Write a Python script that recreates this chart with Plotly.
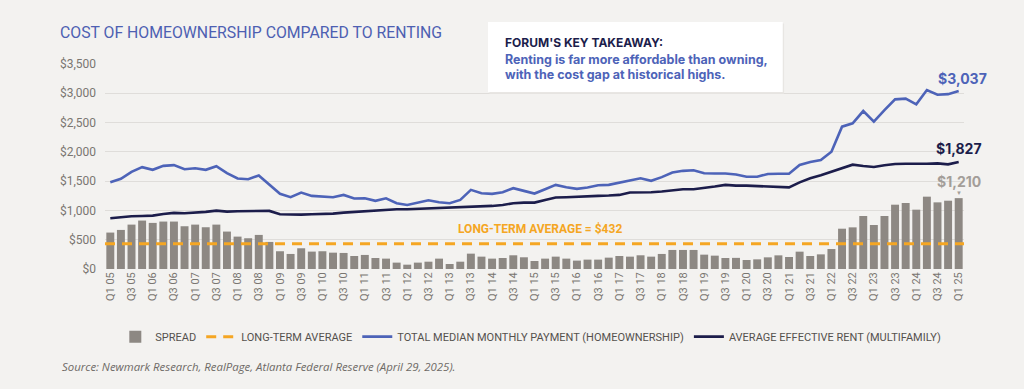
import plotly.graph_objects as go

# ---------------- data ----------------
years = list(range(5, 26))
quarters = [f"Q{q} {y:02d}" for y in years for q in (1, 2, 3, 4)][:81]  # Q1 05 .. Q1 25

spread = [622, 667, 758, 827, 787, 810, 810, 730, 758, 713, 758, 639, 553, 525, 582, 462,
          303, 257, 354, 297, 303, 279, 274, 222, 240, 188, 177, 109, 74, 109, 125, 177,
          85, 125, 262, 211, 177, 188, 234, 200, 137, 177, 211, 177, 143, 160, 160, 194,
          222, 211, 234, 211, 257, 325, 325, 325, 245, 228, 188, 190, 154, 165, 199, 233,
          205, 296, 222, 250, 341, 688, 711, 905, 751, 905, 1098, 1127, 1013, 1235, 1138, 1166,
          1210]

payment = [1482, 1539, 1659, 1739, 1693, 1761, 1773, 1704, 1721, 1693, 1756, 1636, 1545, 1533, 1596, 1436,
           1283, 1226, 1305, 1248, 1237, 1226, 1265, 1203, 1208, 1163, 1208, 1123, 1094, 1134, 1174, 1140,
           1123, 1180, 1351, 1294, 1283, 1311, 1379, 1334, 1288, 1362, 1436, 1397, 1368, 1391, 1431, 1436,
           1476, 1505, 1550, 1505, 1568, 1647, 1676, 1687, 1636, 1630, 1630, 1612, 1576, 1576, 1622, 1627,
           1627, 1775, 1827, 1861, 2003, 2430, 2487, 2697, 2515, 2714, 2896, 2908, 2811, 3056, 2975, 2985,
           3037]

rent = [866, 889, 900, 906, 912, 940, 958, 952, 958, 975, 997, 980, 986, 992, 997, 992,
        935, 929, 929, 935, 935, 946, 963, 975, 980, 1000, 1009, 1020, 1020, 1026, 1032, 1037,
        1049, 1055, 1055, 1060, 1077, 1094, 1123, 1134, 1134, 1180, 1220, 1225, 1237, 1240, 1248, 1254,
        1265, 1305, 1305, 1311, 1322, 1345, 1362, 1362, 1379, 1408, 1436, 1423, 1423, 1417, 1411, 1405,
        1394, 1479, 1548, 1599, 1661, 1718, 1781, 1758, 1741, 1770, 1792, 1798, 1792, 1798, 1804, 1787,
        1827]

LONG_TERM_AVG = 432
tick_labels = quarters[::2]

# ---------------- styling ----------------
BG = "#f3f2f0"
BLUE = "#4d63b8"
NAVY = "#1c1d4b"
GREY = "#8d8883"
ORANGE = "#f5a623"
TICK = "#7a7671"
COND = "Roboto, sans-serif"
GEO = "Inter, Lato, sans-serif"

x = list(range(len(quarters)))

fig = go.Figure()
fig.add_trace(go.Bar(x=x, y=spread, name="SPREAD", marker=dict(color=GREY, line=dict(width=0)),
                     hovertext=quarters))
fig.add_trace(go.Scatter(x=[x[0] - 0.5, x[-1] + 0.5], y=[LONG_TERM_AVG, LONG_TERM_AVG],
                         mode="lines", name="LONG-TERM AVERAGE",
                         line=dict(color=ORANGE, width=3, dash="10px,7px")))
fig.add_trace(go.Scatter(x=x, y=payment, mode="lines", name="TOTAL MEDIAN MONTHLY PAYMENT (HOMEOWNERSHIP)",
                         line=dict(color=BLUE, width=2.6), hovertext=quarters))
fig.add_trace(go.Scatter(x=x, y=rent, mode="lines", name="AVERAGE EFFECTIVE RENT (MULTIFAMILY)",
                         line=dict(color=NAVY, width=2.6), hovertext=quarters))

annotations = [
    dict(x=x[-1], y=payment[-1], xref="x", yref="y", text=f"<b>${payment[-1]:,}</b>",
         showarrow=False, yshift=13, xshift=4, font=dict(family=GEO, size=14, color=BLUE)),
    dict(x=x[-1], y=rent[-1], xref="x", yref="y", text=f"<b>${rent[-1]:,}</b>",
         showarrow=False, yshift=13, xshift=0, font=dict(family=GEO, size=14, color=NAVY)),
    dict(x=x[-1], y=spread[-1], xref="x", yref="y", text=f"<b>${spread[-1]:,}</b>",
         showarrow=False, yshift=17, xshift=0, font=dict(family=GEO, size=14, color="#a39e99")),
    dict(x=x[-1], y=spread[-1], xref="x", yref="y", text="▼",
         showarrow=False, yshift=5, font=dict(size=6, color="#a39e99")),
    dict(x=40.5, y=LONG_TERM_AVG, xref="x", yref="y", text=f"<b>LONG-TERM AVERAGE = ${LONG_TERM_AVG}</b>",
         showarrow=False, yshift=15, font=dict(family=COND, size=12, color=ORANGE)),
    dict(x=0.4633, y=1.107, xref="paper", yref="paper", xanchor="left", yanchor="middle",
         text="<b>FORUM'S KEY TAKEAWAY:</b>", showarrow=False,
         font=dict(family=GEO, size=12, color=NAVY)),
    dict(x=0.4633, y=1.024, xref="paper", yref="paper", xanchor="left", yanchor="middle",
         text="<b>Renting is far more affordable than owning,</b>",
         showarrow=False, font=dict(family=GEO, size=12.5, color=BLUE)),
    dict(x=0.4633, y=0.951, xref="paper", yref="paper", xanchor="left", yanchor="middle",
         text="<b>with the cost gap at historical highs.</b>",
         showarrow=False, font=dict(family=GEO, size=12.5, color=BLUE)),
    dict(x=-0.0524, y=-0.475, xref="paper", yref="paper", xanchor="left", yanchor="middle",
         text="<i>Source: Newmark Research, RealPage, Atlanta Federal Reserve (April 29, 2025).</i>",
         showarrow=False, font=dict(family="Open Sans, sans-serif", size=11.4, color="#6e6a66")),
]

shapes = [
    dict(type="rect", xref="paper", yref="paper", x0=0.4475, x1=0.7905, y0=0.855, y1=1.198,
         fillcolor="#e8e6e3", line=dict(width=0), layer="above"),
    dict(type="rect", xref="paper", yref="paper", x0=0.4459, x1=0.789, y0=0.863, y1=1.205,
         fillcolor="white", line=dict(width=0), layer="above"),
]

fig.update_layout(
    width=1024, height=389,
    paper_bgcolor=BG, plot_bgcolor=BG,
    margin=dict(l=105, r=60, t=64, b=120),
    title=dict(text="COST OF HOMEOWNERSHIP COMPARED TO RENTING", x=60 / 1024, xanchor="left",
               y=1 - 32 / 389, yanchor="middle", yref="container",
               font=dict(family=COND, size=15.8, color="#4d60b2")),
    bargap=0.25,
    showlegend=True,
    legend=dict(orientation="h", x=0.012, xanchor="left", y=-0.33, yanchor="middle",
                font=dict(family=COND, size=11, color="#55514d"), bgcolor="rgba(0,0,0,0)",
                itemwidth=30, traceorder="normal"),
    xaxis=dict(range=[-0.5, len(quarters) - 0.5], tickmode="array", tickvals=x[::2], ticktext=tick_labels,
               tickangle=-90, tickfont=dict(family=COND, size=11, color=TICK), showgrid=False,
               zeroline=False, showline=False, ticks=""),
    yaxis=dict(range=[0, 3500], dtick=500, tickformat="$,.0f", tickfont=dict(family=COND, size=12, color=TICK),
               gridcolor="#dfddda", gridwidth=1, zeroline=False, showline=False, ticks="",
               ticklabelstandoff=8),
    annotations=annotations,
    shapes=shapes,
)

fig.write_html("out.html", config={"displayModeBar": False},
               post_script="document.body.style.margin='0';document.body.style.background='#f3f2f0';")
